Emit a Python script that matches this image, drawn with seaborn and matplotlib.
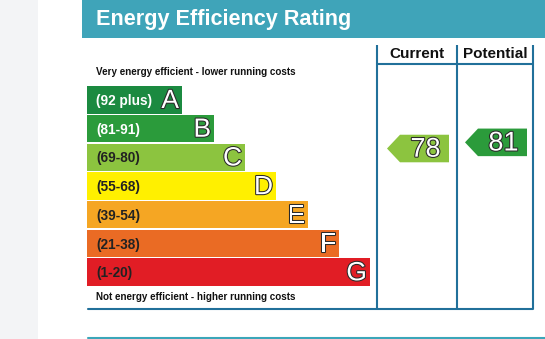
import matplotlib
matplotlib.use("Agg")
import matplotlib.pyplot as plt
import matplotlib.patheffects as pe
from matplotlib.patches import Rectangle, Polygon
from matplotlib.transforms import blended_transform_factory
import seaborn as sns
import pandas as pd

# ---- data ----
letters = ["A", "B", "C", "D", "E", "F", "G"]
ranges = ["(92 plus)", "(81-91)", "(69-80)", "(55-68)", "(39-54)", "(21-38)", "(1-20)"]
range_low = [92, 81, 69, 55, 39, 21, 1]
range_high = [100, 91, 80, 68, 54, 38, 20]
bar_lengths = [95, 127, 158, 189, 221, 252, 283]
band_colors = ["#1b8a40", "#2b9b3b", "#8cc43f", "#fff000", "#f5a623", "#ea6b24", "#e11d25"]
label_colors = ["white", "white", "#222222", "#222222", "#222222", "#222222", "#222222"]
current_rating = 78
potential_rating = 81
title = "Energy Efficiency Rating"
top_note = "Very energy efficient - lower running costs"
bottom_note = "Not energy efficient - higher running costs"

sns.set_theme(style="white")
plt.rcParams["font.family"] = ["Liberation Sans", "DejaVu Sans"]

W, H = 545, 339
fig = plt.figure(figsize=(W / 100, H / 100), dpi=100)
fig.patch.set_facecolor("white")

# overlay axes in pixel coordinates
ax = fig.add_axes([0, 0, 1, 1])
ax.set_xlim(0, W)
ax.set_ylim(H, 0)
ax.axis("off")
ax.patch.set_alpha(0)

# left grey band
ax.add_patch(Rectangle((0, 0), 38, H, color="#f3f4f6", lw=0))
# title banner
ax.add_patch(Rectangle((82, 0), W - 82, 38, color="#3fa4b9", lw=0))
ax.text(96, 20, title, color="white", fontsize=15.6, fontweight="bold",
        va="center", ha="left")

frame_c = "#21709a"
lw = 1.5
for x in (377, 457, 533):
    ax.plot([x, x], [45, 309], color=frame_c, lw=lw, solid_capstyle="butt")
ax.plot([377, 533], [64, 64], color=frame_c, lw=lw)
ax.plot([88, 533], [309, 309], color=frame_c, lw=lw)
ax.plot([88, W], [338, 338], color="#3ba6b9", lw=lw)

ax.text(417, 54.5, "Current", fontsize=11, fontweight="bold", ha="center", va="center", color="#111")
ax.text(495, 54.5, "Potential", fontsize=11, fontweight="bold", ha="center", va="center", color="#111")

ax.text(96, 72, top_note, fontsize=7.1, fontweight="bold", ha="left", va="center", color="#111")
ax.text(96, 296.5, bottom_note, fontsize=7.1, fontweight="bold", ha="left", va="center", color="#111")

# bars axes
top_px, bot_px = 85.5, 286.5
left_px, right_px = 87, 370
bx = fig.add_axes([left_px / W, (H - bot_px) / H, (right_px - left_px) / W, (bot_px - top_px) / H])
df = pd.DataFrame({"letter": letters, "length": bar_lengths})
sns.barplot(data=df, x="length", y="letter", hue="letter", palette=band_colors,
            orient="h", width=0.96, legend=False, ax=bx, linewidth=0, saturation=1)
bx.set_xlim(0, right_px - left_px)
bx.set_ylim(len(letters) - 0.5, -0.5)
bx.axis("off")
bx.patch.set_alpha(0)

stroke = [pe.withStroke(linewidth=1.5, foreground="#2a2a2a")]
for i, (lab, ln, lc, let) in enumerate(zip(ranges, bar_lengths, label_colors, letters)):
    bx.text(9, i + 0.04, lab, color=lc, fontsize=9.8, fontweight="bold", ha="left", va="center")
    bx.text(ln - 3, i + 0.04, let, color="white", fontsize=19, ha="right", va="center",
            path_effects=stroke)

# arrows (x in pixel coords, y in band units)
tr = blended_transform_factory(ax.transData, bx.transData)


def band_pos(v):
    for i, (lo, hi) in enumerate(zip(range_low, range_high)):
        if lo <= v <= hi:
            frac = (hi - v) / (hi - lo)
            return i, i - 0.48 + frac * 0.96
    return len(letters) - 1, len(letters) - 1


def draw_arrow(v, x0, x1):
    idx, yc = band_pos(v)
    h = 0.48
    pts = [(x0, yc), (x0 + 13, yc - h), (x1, yc - h), (x1, yc + h), (x0 + 13, yc + h)]
    poly = Polygon(pts, closed=True, facecolor=band_colors[idx], edgecolor="none", transform=tr)
    fig.add_artist(poly)
    fig.text(0, 0, str(v), transform=tr, fontsize=19.5, color="white", ha="center", va="center",
             path_effects=stroke)
    t = fig.texts[-1]
    t.set_position(((x0 + 13 + x1) / 2 + 1, yc + 0.04))


draw_arrow(current_rating, 387, 449)
draw_arrow(potential_rating, 465, 527)

fig.savefig("out.png", dpi=100, facecolor="white")
